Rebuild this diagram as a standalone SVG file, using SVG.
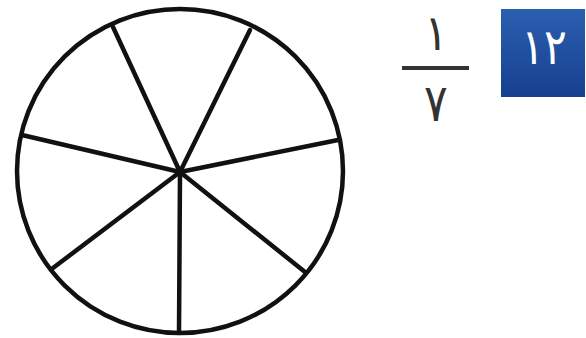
<svg xmlns="http://www.w3.org/2000/svg" width="586" height="338" viewBox="0 0 586 338">
<defs>
<linearGradient id="bg" x1="0" y1="0" x2="0" y2="1">
<stop offset="0" stop-color="#2b5fb0"/>
<stop offset="1" stop-color="#173f8f"/>
</linearGradient>
</defs>
<style>
.ln{stroke:#111;stroke-width:4.5;fill:none;stroke-linecap:round}
.num{font-family:"DejaVu Sans",sans-serif;fill:#333;text-anchor:middle}
</style>
<rect width="586" height="338" fill="#fff"/>
<g id="circle">
<ellipse cx="180" cy="171" rx="163" ry="162" class="ln"/>
</g>
<g id="spokes">
<line x1="180" y1="172" x2="113" y2="27" class="ln"/>
<line x1="180" y1="172" x2="250" y2="30" class="ln"/>
<line x1="180" y1="172" x2="338" y2="140" class="ln"/>
<line x1="180" y1="172" x2="305" y2="272" class="ln"/>
<line x1="180" y1="172" x2="179" y2="333" class="ln"/>
<line x1="180" y1="172" x2="53" y2="268" class="ln"/>
<line x1="180" y1="172" x2="22" y2="135" class="ln"/>
</g>
<g id="fraction">
<text x="436" y="50" class="num" font-size="50" transform="translate(436 0) scale(0.88 1) translate(-436 0)">١</text>
<line x1="402" y1="68" x2="469" y2="68" stroke="#333" stroke-width="4"/>
<text x="436" y="121" class="num" font-size="52" transform="translate(436 0) scale(0.85 1) translate(-436 0)">٧</text>
</g>
<g id="badge">
<rect x="501" y="9" width="84" height="88" fill="url(#bg)"/>
<text x="544" y="64" font-family="DejaVu Sans,sans-serif" font-size="50" fill="#fff" text-anchor="middle" transform="translate(544 0) scale(0.85 1) translate(-544 0)">١٢</text>
</g>
</svg>
